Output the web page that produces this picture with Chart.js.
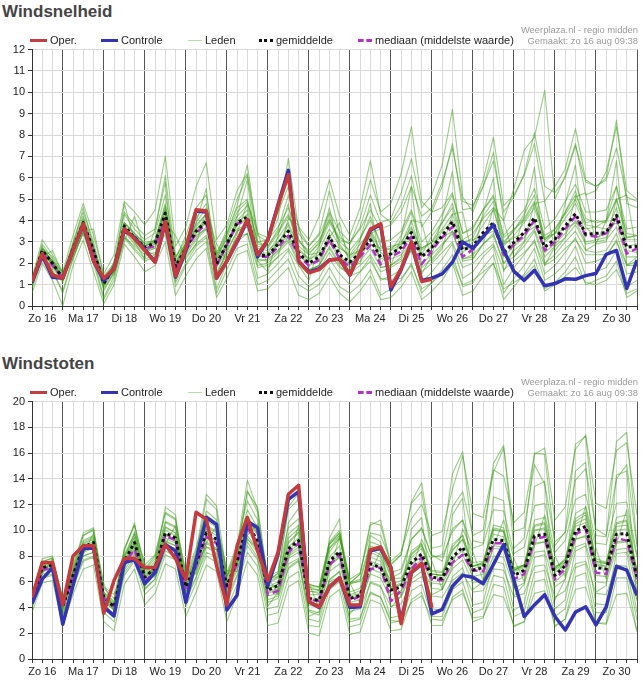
<!DOCTYPE html>
<html><head><meta charset="utf-8">
<script src="https://cdn.jsdelivr.net/npm/chart.js@4"></script>
<style>
html,body{margin:0;padding:0;background:#fff;width:644px;height:684px;overflow:hidden;font-family:"Liberation Sans",Arial,sans-serif;}
.title{position:absolute;left:2px;font-family:"Liberation Sans",Arial,sans-serif;font-weight:bold;font-size:17px;color:#444;line-height:20px;z-index:2;}
.legend{position:absolute;left:0;width:644px;font-size:11px;color:#222;height:14px;line-height:14px;z-index:2;}
.item{position:absolute;top:0;white-space:nowrap;}
.sw{display:inline-block;vertical-align:middle;height:0;margin-right:3px;position:relative;top:-1px;}
.src{position:absolute;right:6px;font-size:9.4px;color:#9a9a9a;text-align:right;line-height:11px;z-index:2;}
canvas{position:absolute;left:0;}
</style></head>
<body>
<div class="title" style="top:2px">Windsnelheid</div>
<div class="src" style="top:24px">Weerplaza.nl - regio midden<br>Gemaakt: zo 16 aug 09:38</div>
<div class="legend" style="top:33px">
  <div class="item" style="left:30px"><span class="sw" style="width:17px;border-top:3.5px solid #c0403f"></span>Oper.</div>
  <div class="item" style="left:101px"><span class="sw" style="width:17px;border-top:3.5px solid #3434b0"></span>Controle</div>
  <div class="item" style="left:188px"><span class="sw" style="width:14px;border-top:1px solid #b9dca9"></span>Leden</div>
  <div class="item" style="left:259px"><span class="sw" style="width:14px;border-top:3px dotted #111"></span>gemiddelde</div>
  <div class="item" style="left:358px"><span class="sw" style="width:14px;border-top:3px dashed #b531c9"></span>mediaan (middelste waarde)</div>
</div>
<canvas id="c1" width="644" height="288" style="top:40px"></canvas>

<div class="title" style="top:354px">Windstoten</div>
<div class="src" style="top:376px">Weerplaza.nl - regio midden<br>Gemaakt: zo 16 aug 09:38</div>
<div class="legend" style="top:385px">
  <div class="item" style="left:30px"><span class="sw" style="width:17px;border-top:3.5px solid #c0403f"></span>Oper.</div>
  <div class="item" style="left:101px"><span class="sw" style="width:17px;border-top:3.5px solid #3434b0"></span>Controle</div>
  <div class="item" style="left:188px"><span class="sw" style="width:14px;border-top:1px solid #b9dca9"></span>Leden</div>
  <div class="item" style="left:259px"><span class="sw" style="width:14px;border-top:3px dotted #111"></span>gemiddelde</div>
  <div class="item" style="left:358px"><span class="sw" style="width:14px;border-top:3px dashed #b531c9"></span>mediaan (middelste waarde)</div>
</div>
<canvas id="c2" width="644" height="289" style="top:392px"></canvas>

<script>
// ---- tick labels / categories ----
const dagLabels = ['Zo 16','Ma 17','Di 18','Wo 19','Do 20','Vr 21','Za 22','Zo 23','Ma 24','Di 25','Wo 26','Do 27','Vr 28','Za 29','Zo 30'];
const STAPPEN_PER_DAG = 4;      // 6-hourly steps
const EERSTE_LABEL_INDEX = 1;   // Zo 16 12:00
const N_PUNTEN = 60;            // Zo 16 06:00 .. Ma 31 00:00

// ---- Windsnelheid (Bft) ----
const snelOper = [1.15,2.45,1.45,1.3,2.6,3.85,2.1,1.3,1.75,3.6,
 3.15,2.6,2.05,3.95,1.4,2.7,4.5,4.45,1.3,2.1,
 3.05,4.05,2.4,3.1,4.7,6.15,2.1,1.55,1.7,2.15,
 2.2,1.45,2.5,3.6,3.85,0.9,1.75,3.0,1.15,1.25];
const snelControle = [1.1,2.35,1.35,1.3,2.6,3.8,2.1,1.2,1.75,3.55,
 3.2,2.65,2.05,3.9,1.35,2.6,4.45,4.4,1.3,2.1,
 3.0,4.0,2.3,3.1,4.75,6.35,2.1,1.6,1.75,2.15,
 2.2,1.45,2.5,3.55,3.8,0.75,1.7,2.95,1.2,1.3,
 1.5,2.05,3.0,2.7,3.25,3.8,2.6,1.62,1.2,1.67,
 0.95,1.05,1.27,1.25,1.42,1.52,2.42,2.6,0.82,2.15];
const snelGemiddelde = [1.1,2.6,2.0,1.3,2.7,3.9,2.6,1.05,1.8,3.75,
 3.2,2.75,2.95,4.35,1.85,2.7,3.5,3.98,1.97,2.9,
 3.9,4.17,2.36,2.36,2.9,3.5,2.5,2.0,2.3,3.24,
 2.4,2.05,2.5,3.1,2.28,2.44,2.75,3.44,2.3,2.75,
 3.29,3.95,2.62,2.8,3.44,3.9,2.5,2.98,3.44,4.13,
 2.75,3.13,3.75,4.32,3.36,3.4,3.44,4.24,2.75,2.8];
const snelMediaan = [1.1,2.5,1.9,1.3,2.65,3.85,2.5,1.1,1.8,3.65,
 3.15,2.7,2.8,4.1,1.75,2.6,3.4,3.85,1.9,2.85,
 3.85,4.0,2.3,2.3,2.75,3.3,2.35,1.9,2.15,3.1,
 2.2,1.85,2.3,2.85,1.95,2.3,2.55,3.25,1.95,2.6,
 3.2,3.7,2.3,2.65,3.3,3.8,2.4,2.9,3.3,4.0,
 2.6,3.0,3.6,4.2,3.3,3.25,3.4,4.1,2.45,2.7];
const snelLeden = [
 [1.2,2.9,2.2,1.4,3.0,4.4,3.0,1.2,2.0,4.3,3.6,3.1,3.4,5.2,2.3,3.1,4.1,4.8,2.5,3.4,4.6,5.0,2.9,2.8,3.5,4.3,3.1,2.5,2.9,4.1,3.0,2.6,3.2,4.0,3.0,3.1,3.5,4.5,3.0,3.5,4.3,5.2,3.4,3.6,4.5,5.1,3.3,3.9,4.5,5.5,3.6,4.1,4.9,5.7,4.4,4.4,4.5,5.6,3.6,3.7],
 [1.0,2.3,1.8,1.1,2.4,3.4,2.2,0.8,1.5,3.2,2.8,2.4,2.5,3.6,1.4,2.3,2.9,3.3,1.5,2.4,3.2,3.4,1.8,1.9,2.3,2.7,1.9,1.5,1.7,2.5,1.8,1.5,1.9,2.4,1.6,1.8,2.1,2.6,1.6,2.0,2.5,3.0,1.8,2.0,2.5,2.9,1.7,2.1,2.5,3.0,1.9,2.2,2.7,3.1,2.4,2.4,2.4,3.0,1.9,1.9],
 [1.1,2.7,2.3,1.5,2.9,4.6,2.8,0.7,1.6,4.8,3.0,2.2,3.6,5.8,1.2,2.4,3.9,5.5,1.4,2.6,4.2,5.9,2.1,1.6,3.3,4.8,1.9,1.2,2.8,4.6,2.6,1.4,3.1,4.8,1.8,1.9,3.2,5.6,1.5,2.4,4.1,6.3,2.2,2.3,4.4,6.0,1.6,2.7,4.2,6.5,1.9,2.8,4.8,6.6,2.6,2.9,4.0,6.8,1.9,2.3],
 [1.2,2.4,2.1,1.6,2.6,3.6,2.7,1.4,2.0,3.4,3.3,3.0,3.0,3.9,2.3,2.9,3.3,3.6,2.4,3.1,3.6,3.8,2.7,2.6,3.0,3.2,2.8,2.4,2.5,3.0,2.7,2.4,2.6,2.9,2.7,2.8,2.9,3.1,2.7,3.0,3.2,3.5,3.0,3.1,3.3,3.5,2.9,3.2,3.4,3.7,3.2,3.4,3.6,3.9,3.6,3.7,3.6,3.9,3.2,3.3],
 [1.0,2.6,1.9,1.2,2.8,4.0,2.4,1.0,1.9,3.9,3.4,2.9,2.9,4.6,2.0,3.0,3.8,4.3,2.2,3.3,4.4,4.9,3.0,3.1,3.7,4.6,3.4,2.8,3.3,4.4,3.5,3.0,3.6,4.5,3.6,3.8,4.4,5.6,4.2,4.6,5.8,7.4,4.9,4.7,5.6,6.8,4.4,5.1,6.2,8.1,5.6,5.3,6.0,7.5,5.8,5.6,5.9,7.4,5.1,4.9],
 [1.1,2.5,1.9,1.2,2.5,3.7,2.5,1.0,1.7,3.6,3.0,2.6,2.7,4.0,1.7,2.5,3.2,3.7,1.8,2.6,3.5,3.8,2.1,2.2,2.6,3.1,2.1,1.7,1.9,2.7,1.9,1.4,1.6,2.1,1.3,1.2,1.3,1.9,0.8,1.1,1.5,2.1,1.0,1.2,1.6,2.0,0.8,1.1,1.4,1.9,0.7,1.0,1.4,1.8,1.1,1.0,1.2,1.7,0.6,0.8],
 [1.1,2.8,2.0,1.3,2.7,4.1,2.6,1.1,1.8,3.9,3.3,2.8,3.1,4.7,1.9,2.9,3.7,4.3,2.1,3.0,4.0,4.5,2.6,2.3,2.9,3.8,2.4,1.9,2.1,3.4,2.2,1.8,2.3,3.5,2.0,2.6,2.9,4.0,2.4,3.3,3.9,4.8,3.1,3.4,4.1,4.6,2.9,3.6,4.1,4.9,3.0,3.4,4.1,4.8,3.7,3.2,3.4,4.6,2.8,2.9],
 [1.2,2.6,2.1,1.3,2.6,3.8,2.7,1.1,1.9,3.8,3.1,2.7,2.9,4.3,1.9,2.8,3.6,3.9,1.9,2.8,3.8,4.0,2.2,2.1,2.6,3.2,2.3,2.1,2.6,3.6,2.8,2.3,2.9,3.5,2.5,2.2,2.4,3.0,2.0,2.4,2.9,3.4,2.2,2.4,2.9,3.3,2.0,2.6,3.0,3.6,2.3,2.8,3.2,3.8,2.9,3.0,3.1,3.7,2.3,2.3],
 [1.0,2.7,2.1,1.2,2.9,4.2,2.8,0.9,2.1,4.4,3.8,3.3,3.6,6.1,2.2,3.3,4.6,5.2,2.4,3.6,5.0,6.1,3.0,2.8,3.6,5.2,3.1,2.4,3.0,4.3,2.9,2.2,2.7,3.6,2.6,2.7,3.0,3.7,2.6,3.0,3.6,4.3,2.8,2.6,3.2,3.9,2.3,2.8,3.2,4.0,2.5,2.9,3.4,4.0,3.0,3.1,3.2,4.1,2.6,2.5],
 [0.9,2.4,1.7,0.6,2.2,3.5,2.2,0.4,1.4,3.3,2.7,2.2,2.4,3.8,1.1,2.0,2.8,3.2,0.8,2.0,3.0,3.4,1.3,1.5,2.0,2.6,1.4,0.9,1.3,2.2,1.5,1.0,1.6,2.3,1.2,1.4,1.7,2.6,1.1,1.6,2.2,2.9,1.3,1.6,2.3,2.8,1.0,1.8,2.4,3.1,1.5,1.9,2.5,3.2,2.0,2.1,2.3,3.1,1.5,1.6],
 [1.1,2.6,2.0,1.4,2.8,3.9,2.6,1.2,1.9,3.7,3.2,2.8,3.0,4.4,2.0,2.8,3.6,4.1,2.2,3.2,4.2,4.7,2.8,2.7,3.4,4.2,3.0,2.6,3.1,4.0,3.2,2.9,3.7,5.2,3.9,4.1,5.3,6.9,4.6,5.2,6.6,9.2,5.1,4.4,5.6,7.2,4.0,5.5,7.3,7.9,10.1,5.0,6.1,7.6,5.2,5.4,6.3,8.4,5.4,5.0],
 [1.1,2.5,2.0,1.4,2.7,3.9,2.6,1.1,1.8,3.7,3.2,2.8,3.0,4.5,1.8,2.7,3.5,4.0,2.0,2.9,3.9,4.3,2.4,2.5,3.2,3.9,2.7,2.2,2.4,3.0,2.2,2.0,2.5,3.3,2.2,2.4,2.8,3.6,2.3,2.8,3.5,4.0,2.5,3.0,3.8,4.5,2.8,3.3,3.9,4.6,3.1,3.6,4.3,5.0,3.9,4.0,3.9,5.0,3.1,3.1],
 [1.1,2.6,2.0,1.3,2.6,3.8,2.5,1.0,1.7,3.6,3.1,2.6,2.8,4.1,1.8,2.6,3.4,3.9,1.9,2.8,3.8,4.1,2.3,2.4,3.0,3.6,2.6,2.2,2.8,3.9,3.1,2.9,4.1,5.9,4.4,4.8,6.2,8.4,4.9,4.4,4.6,5.3,3.4,3.7,4.5,5.2,3.2,3.6,4.0,4.8,3.3,3.6,4.4,5.2,4.1,3.9,4.0,5.0,3.4,3.3],
 [1.0,2.5,1.9,1.2,2.5,3.7,2.4,0.9,1.6,3.5,2.9,2.5,2.7,4.0,1.6,2.4,3.1,3.6,1.6,2.5,3.5,3.7,1.9,2.0,2.5,3.0,2.0,1.7,1.9,2.8,2.0,1.7,2.1,2.7,1.8,1.9,2.2,3.0,1.8,2.2,2.8,3.5,2.1,2.2,2.9,3.4,2.0,2.3,2.8,3.5,2.0,2.4,3.0,3.5,2.6,2.5,2.6,3.4,1.9,2.1],
 [1.2,2.7,2.1,1.3,2.8,4.0,2.7,1.1,1.9,3.9,3.4,2.9,3.1,4.8,2.1,2.9,3.9,4.6,2.3,3.4,4.7,6.6,3.3,3.0,4.1,6.9,3.6,2.8,3.4,5.4,3.4,2.4,3.1,4.2,2.8,2.6,3.3,4.4,2.7,3.0,3.9,4.6,2.9,3.2,4.2,4.9,3.0,3.5,4.3,5.2,3.1,3.4,4.4,5.4,3.8,3.7,4.0,5.6,3.2,3.3],
 [0.8,2.2,1.6,0.7,2.3,3.4,2.0,0.3,1.2,3.2,2.6,2.1,2.3,3.4,0.9,1.9,2.6,3.0,0.6,1.7,2.7,2.9,1.0,1.2,1.7,2.2,1.0,0.7,1.0,1.8,0.9,0.6,1.0,1.7,0.5,0.8,1.2,2.0,0.6,1.1,1.7,2.4,0.9,1.1,1.8,2.4,0.6,1.3,1.9,2.7,1.2,1.5,2.0,2.8,1.4,1.6,1.8,2.6,0.9,1.2],
 [1.1,2.3,2.6,1.5,2.2,3.5,3.6,1.4,1.5,3.0,4.2,2.6,2.4,3.9,3.3,2.2,2.9,4.5,2.9,2.1,3.4,4.8,3.5,1.8,2.3,4.1,3.8,1.6,1.9,3.2,3.9,1.8,2.0,3.4,3.6,1.9,2.3,4.0,3.9,2.1,2.7,4.3,4.4,2.2,2.9,4.6,4.0,2.3,3.0,4.8,4.9,2.6,3.2,5.1,5.3,2.9,3.0,5.0,5.2,2.4],
 [1.3,3.1,2.4,1.6,3.3,4.8,3.3,1.5,2.4,4.9,4.4,3.8,4.5,7.0,2.8,3.7,5.6,6.7,3.1,3.8,5.4,6.2,3.4,3.2,4.4,5.6,3.7,3.1,4.2,5.9,4.2,3.3,4.6,6.8,4.3,3.9,4.7,6.1,3.7,4.4,5.6,7.6,4.5,4.6,5.9,7.9,4.7,5.2,6.1,7.6,4.9,5.6,6.4,8.3,5.9,5.6,6.0,8.7,4.8,4.6],
 [0.6,2.0,1.2,0.0,1.9,3.1,1.6,0.1,1.0,2.9,2.3,1.6,1.9,3.0,0.5,1.4,2.2,2.7,0.4,1.3,2.4,2.6,0.7,0.8,1.3,1.8,0.5,0.3,0.6,1.4,0.6,0.2,0.7,1.4,0.3,0.4,0.9,1.6,0.3,0.7,1.2,2.0,0.5,0.7,1.4,2.0,0.3,0.9,1.5,2.2,0.8,1.1,1.6,2.3,1.0,1.2,1.4,2.1,0.4,0.7]
];

// ---- Windstoten (m/s) ----
const stootOper = [4.8,7.5,7.5,4.2,8.0,8.8,8.8,3.55,6.1,7.8,
 7.8,7.1,7.1,8.9,7.8,6.2,11.4,10.85,7.25,4.2,
 8.8,11.0,8.4,6.1,8.3,12.8,13.5,4.45,4.05,5.6,
 6.3,4.2,4.2,8.5,8.7,7.1,2.75,6.75,7.45,4.0];
const stootControle = [4.3,6.2,7.1,2.7,5.7,8.6,8.6,4.05,3.35,7.5,
 7.7,5.85,6.7,8.9,8.4,4.4,7.7,11.0,10.45,3.8,
 4.95,10.7,10.2,5.7,8.15,12.4,13.0,4.45,4.0,5.6,
 6.3,4.0,4.05,8.4,8.6,7.1,2.9,6.7,7.4,3.5,
 3.85,5.65,6.5,6.35,5.85,7.35,8.9,6.1,3.3,4.2,
 5.0,3.3,2.25,3.65,4.05,2.65,4.05,7.2,6.9,4.95];
const stootGemiddelde = [4.5,7.1,7.3,4.05,6.5,8.7,9.05,4.8,4.05,7.6,
 9.05,6.35,7.1,9.8,9.4,5.6,7.4,9.8,9.3,5.7,
 7.6,10.45,9.2,5.35,5.7,8.55,9.2,4.7,4.55,7.6,
 8.35,4.7,4.95,7.4,7.1,5.35,5.6,7.5,8.15,6.35,
 6.25,7.9,8.7,6.9,7.1,9.3,9.2,6.5,6.9,9.55,
 9.7,6.5,7.25,9.95,10.3,7.1,7.0,9.7,9.75,6.35];
const stootMediaan = [4.4,6.9,7.2,4.1,6.4,8.5,8.8,4.7,4.1,7.4,
 8.5,6.0,6.9,9.6,9.2,5.5,7.2,9.5,9.0,5.6,
 7.4,10.2,9.0,5.0,5.3,8.3,9.0,4.6,4.5,7.3,
 8.1,4.5,4.9,7.0,7.1,4.5,5.3,7.0,7.9,6.2,
 6.1,7.5,8.1,6.9,6.8,9.0,9.0,6.2,6.6,9.3,
 9.5,6.2,7.0,9.7,10.1,6.7,6.6,9.4,9.2,6.2];
const stootLeden = [
 [4.9,7.8,8.0,4.6,7.3,9.8,10.2,5.5,4.7,8.6,10.4,7.3,8.1,11.4,10.9,6.5,8.6,11.5,10.8,6.7,8.9,12.3,10.8,6.4,6.8,10.2,10.9,5.8,5.6,9.1,10.0,5.9,6.2,9.1,8.8,6.7,7.0,9.3,10.1,8.0,7.9,9.9,10.8,8.6,8.9,11.6,11.5,8.2,8.7,11.9,12.1,8.3,9.2,12.4,12.8,9.0,8.9,12.1,12.2,8.1],
 [4.1,6.4,6.6,3.5,5.8,7.7,8.0,4.1,3.4,6.7,7.8,5.5,6.2,8.4,8.0,4.8,6.4,8.3,7.9,4.8,6.5,8.8,7.7,4.4,4.7,7.0,7.6,3.8,3.6,6.2,6.8,3.7,3.9,5.9,5.6,4.1,4.3,5.9,6.4,4.9,4.8,6.1,6.7,5.2,5.3,7.0,6.9,4.8,5.1,7.2,7.3,4.8,5.3,7.4,7.6,5.1,5.0,7.3,7.2,4.6],
 [4.4,7.5,7.9,3.6,6.9,9.6,10.1,4.2,3.5,8.4,10.6,5.6,7.4,11.8,11.2,4.7,7.9,12.4,11.6,4.6,7.9,13.1,11.4,4.1,5.2,10.6,11.7,3.3,3.7,9.4,10.9,3.5,4.4,9.6,9.1,4.0,4.9,10.1,11.0,5.0,5.4,11.2,12.5,5.4,6.0,12.6,12.3,4.9,5.8,13.4,13.8,4.6,6.2,14.6,15.3,5.2,5.7,14.3,14.6,4.5],
 [4.6,6.8,7.0,4.8,6.4,8.0,8.3,5.6,5.0,7.2,8.2,6.9,7.2,8.8,8.6,6.4,7.3,8.7,8.5,6.5,7.5,9.3,8.6,6.3,6.4,8.0,8.5,5.8,5.6,7.4,7.9,5.9,6.0,7.3,7.1,6.2,6.3,7.4,7.9,6.9,6.8,7.8,8.4,7.2,7.4,8.8,8.7,7.1,7.3,9.0,9.1,7.2,7.5,9.3,9.5,7.6,7.4,9.1,9.2,7.0],
 [4.5,7.2,7.4,4.2,6.7,8.9,9.3,5.0,4.2,7.9,9.4,6.6,7.4,10.2,9.8,5.9,7.8,10.3,9.8,6.1,8.1,11.1,9.8,5.9,6.3,9.4,10.1,5.6,5.6,8.9,9.8,6.2,6.7,9.8,9.6,7.6,8.3,10.9,12.0,9.6,9.9,13.2,15.8,11.3,11.0,14.7,14.2,10.6,11.4,15.9,16.4,10.8,11.8,16.3,17.4,12.1,11.7,16.2,16.8,11.2],
 [4.4,6.9,7.1,3.9,6.2,8.4,8.7,4.5,3.8,7.2,8.6,6.0,6.7,9.2,8.8,5.2,6.8,9.0,8.5,5.1,6.9,9.4,8.2,4.6,4.9,7.4,7.8,3.7,3.4,6.0,6.4,3.1,3.2,5.2,4.8,3.0,2.9,4.4,4.9,3.1,3.0,4.6,5.1,3.2,3.3,5.0,4.8,2.6,2.9,5.1,5.3,2.6,3.1,5.4,5.6,2.8,2.7,5.0,5.1,2.2],
 [4.6,7.3,7.5,4.1,6.7,9.0,9.4,4.9,4.1,7.9,9.5,6.5,7.2,10.3,9.8,5.7,7.7,10.4,9.9,5.8,7.9,11.0,9.7,5.5,5.8,9.0,9.8,4.8,4.6,7.9,8.8,4.9,5.1,7.9,7.6,5.5,5.8,8.2,8.9,6.6,6.5,8.7,9.6,7.2,7.5,10.4,10.2,6.9,7.3,10.8,11.0,7.0,7.7,11.3,11.8,7.6,7.5,11.0,11.2,6.7],
 [4.3,6.8,7.1,3.8,6.3,8.4,8.8,4.6,3.9,7.3,8.8,6.1,6.9,9.4,9.0,5.4,7.1,9.4,8.9,5.4,7.3,10.0,8.8,5.1,5.4,8.1,8.7,4.4,4.3,7.2,7.9,4.4,4.6,7.0,6.7,5.0,5.3,7.1,7.7,5.9,5.8,7.4,8.1,6.4,6.6,8.6,8.5,6.0,6.4,8.9,9.1,6.0,6.7,9.3,9.6,6.5,6.4,9.0,9.1,5.8],
 [4.7,7.6,7.8,4.4,7.1,9.6,10.0,5.2,4.5,8.5,10.4,7.0,8.0,11.3,10.8,6.2,8.4,12.8,11.9,6.5,8.7,13.9,11.6,6.0,6.7,11.6,12.4,5.3,5.1,8.9,9.6,5.0,5.3,8.3,7.9,5.6,5.9,8.1,8.8,6.6,6.5,8.5,9.3,7.0,7.3,9.7,9.5,6.8,7.1,10.0,10.1,6.7,7.4,10.3,10.6,7.3,7.2,10.0,10.1,6.4],
 [4.2,6.6,6.8,3.4,5.9,8.0,8.3,3.9,3.2,6.9,8.1,5.4,6.2,8.7,8.3,4.5,6.3,8.7,8.2,4.4,6.4,9.1,7.9,3.9,4.1,7.1,7.7,3.1,2.9,6.1,6.8,2.9,3.1,6.0,5.7,3.2,3.4,6.2,6.8,3.9,3.8,6.4,7.1,4.2,4.4,7.6,7.4,3.8,4.3,7.9,8.1,3.9,4.6,8.4,8.8,4.3,4.2,8.2,8.3,3.6],
 [4.5,7.1,7.3,4.1,6.6,8.8,9.1,4.9,4.1,7.7,9.2,6.4,7.2,10.0,9.6,5.7,7.5,10.1,9.6,5.9,7.8,10.8,9.6,5.6,6.0,9.1,9.9,5.2,5.3,8.6,9.6,5.9,6.6,10.6,10.4,7.3,8.1,12.2,13.7,8.6,8.8,14.4,16.1,9.2,9.0,15.2,16.6,8.6,9.4,16.0,15.9,8.8,9.9,16.7,17.3,9.6,9.5,16.9,17.6,8.9],
 [4.5,7.0,7.2,4.0,6.5,8.6,8.9,4.8,4.0,7.5,8.9,6.3,7.0,9.6,9.2,5.5,7.3,9.6,9.1,5.6,7.5,10.2,9.0,5.2,5.5,8.3,8.9,4.6,4.5,7.4,8.1,4.7,5.0,7.6,7.3,5.4,5.8,7.9,8.6,6.6,6.5,8.4,9.3,7.2,7.4,10.0,9.9,6.9,7.3,10.4,10.6,7.1,7.8,10.9,11.4,7.8,7.5,10.6,10.8,6.8],
 [4.5,7.1,7.3,4.1,6.5,8.7,9.0,4.8,4.1,7.6,9.0,6.3,7.1,9.7,9.3,5.6,7.4,9.7,9.2,5.7,7.6,10.3,9.1,5.4,5.8,8.7,9.4,5.0,5.0,8.3,9.4,5.9,6.6,10.4,10.8,7.4,8.1,12.1,13.0,8.1,7.6,10.1,10.8,7.5,7.6,10.2,10.0,6.9,7.2,10.0,10.2,6.9,7.5,10.5,10.9,7.4,7.2,10.3,10.4,6.6],
 [4.4,6.9,7.1,3.9,6.3,8.3,8.6,4.5,3.8,7.2,8.5,6.0,6.7,9.1,8.8,5.2,6.9,9.1,8.6,5.3,7.1,9.6,8.5,4.9,5.1,7.8,8.3,4.2,4.0,6.8,7.4,4.1,4.3,6.6,6.3,4.6,4.8,6.6,7.2,5.5,5.4,7.0,7.7,5.9,6.1,8.0,7.9,5.5,5.9,8.3,8.4,5.6,6.2,8.7,9.0,6.0,5.9,8.5,8.6,5.3],
 [4.6,7.3,7.5,4.2,6.8,9.1,9.5,5.1,4.3,8.0,9.7,6.7,7.6,10.6,10.2,6.0,8.0,11.2,10.6,6.3,8.5,13.0,11.8,6.2,6.6,11.8,12.9,5.6,5.3,9.0,9.8,5.2,5.5,8.5,8.1,5.8,6.1,8.4,9.0,6.8,6.7,8.9,9.6,7.2,7.5,10.1,9.9,7.0,7.3,10.3,10.5,7.0,7.7,10.7,11.2,7.5,7.4,10.5,10.7,6.7],
 [4.0,6.3,6.5,3.2,5.6,7.6,7.9,3.6,2.9,6.5,7.6,5.0,5.8,8.1,7.7,4.1,5.9,8.0,7.5,3.9,5.8,8.3,7.2,3.4,3.6,6.3,6.8,2.6,2.5,5.4,6.0,2.5,2.7,5.1,4.8,2.8,3.0,5.3,5.8,3.3,3.3,5.4,6.0,3.6,3.9,6.5,6.3,3.3,3.7,6.7,6.9,3.3,3.9,7.1,7.4,3.6,3.6,7.0,7.0,3.0],
 [4.6,6.6,7.8,4.8,5.7,8.1,9.8,5.9,3.7,6.8,9.9,7.4,6.3,8.9,10.4,6.8,6.6,9.0,10.4,6.9,6.8,9.6,10.5,6.4,5.0,7.7,10.4,5.9,3.9,6.8,9.5,5.9,4.3,6.7,8.4,6.5,4.9,6.9,9.3,7.6,5.4,7.2,10.1,8.3,6.1,8.7,10.8,7.8,6.0,8.8,11.2,8.0,6.4,9.2,11.9,8.6,6.2,8.9,11.6,7.9],
 [4.6,7.4,7.6,4.3,6.9,9.2,9.6,5.2,4.4,8.1,9.8,6.9,7.8,10.7,10.3,6.1,8.1,10.8,10.2,6.4,8.4,11.6,10.2,6.0,6.4,9.7,10.4,5.4,5.4,8.6,9.4,5.8,6.1,8.8,8.4,6.3,6.7,9.3,10.2,7.9,8.1,11.8,13.0,9.6,10.0,14.5,16.4,9.9,10.2,15.1,13.6,9.1,9.8,13.9,14.8,10.1,9.6,14.0,15.1,8.7],
 [3.6,5.9,6.1,2.6,5.0,7.0,7.3,2.9,2.2,5.8,7.0,4.2,5.1,7.4,7.0,3.3,5.2,7.3,6.8,2.9,5.0,7.6,6.5,2.6,2.8,5.6,6.1,2.0,1.8,4.8,5.4,1.9,2.1,4.6,4.3,2.2,2.3,4.6,5.2,2.6,2.6,4.8,5.4,2.9,3.2,5.8,5.6,2.5,2.9,6.0,6.2,2.5,3.1,6.4,6.7,2.8,2.8,6.3,6.3,2.1]
];

// ---- chart builder ----
Chart.defaults.font.family = "'Liberation Sans', Arial, sans-serif";
function punten(arr){ return arr.map((v, i) => ({x: i, y: v})); }

function bouwGrafiek(id, yMax, yStap, padTop, oper, controle, gem, med, leden){
  const datasets = [
    {label:'Oper.', data:punten(oper), borderColor:'#c63a3e', borderWidth:3.5, order:0},
    {label:'Controle', data:punten(controle), borderColor:'#3333b3', borderWidth:3.5, order:1},
    {label:'gemiddelde', data:punten(gem), borderColor:'#111111', borderWidth:3, borderDash:[3,3], order:2},
    {label:'mediaan', data:punten(med), borderColor:'#b531c9', borderWidth:2.5, borderDash:[7,4], order:3}
  ];
  leden.forEach(m => datasets.push({label:'Leden', data:punten(m), borderColor:'rgba(58,155,20,0.5)', borderWidth:1.1, order:10}));
  return new Chart(document.getElementById(id), {
    type:'line',
    data:{datasets},
    options:{
      responsive:false, animation:false, events:[],
      layout:{padding:{left:0, right:7, top:padTop, bottom:0}},
      elements:{point:{radius:0}, line:{tension:0, fill:false, borderJoinStyle:'round'}},
      plugins:{legend:{display:false}, tooltip:{enabled:false}},
      scales:{
        x:{
          type:'linear', min:0, max:N_PUNTEN - 1,
          afterFit(s){ s.height = 22; },
          afterBuildTicks(s){ s.ticks = Array.from({length:N_PUNTEN}, (_, i) => ({value:i})); },
          ticks:{stepSize:1, autoSkip:false, maxRotation:0, minRotation:0, color:'#222', font:{size:11}, padding:2,
            callback(v){ return ((v - EERSTE_LABEL_INDEX) % STAPPEN_PER_DAG === 0 && v >= EERSTE_LABEL_INDEX) ? dagLabels[(v - EERSTE_LABEL_INDEX) / STAPPEN_PER_DAG] : ''; }},
          grid:{
            color(ctx){ const v = ctx.tick ? ctx.tick.value : 0; return ((v + 1) % STAPPEN_PER_DAG === 0) ? '#555555' : '#dadada'; },
            tickColor:'#333', tickLength:4, lineWidth:1
          },
          border:{color:'#333'}
        },
        y:{
          min:0, max:yMax,
          afterFit(s){ s.width = 32; },
          ticks:{stepSize:yStap, color:'#222', font:{size:11}, padding:3},
          grid:{color:'#dadada', tickColor:'#333', tickLength:4},
          border:{color:'#333'}
        }
      }
    }
  });
}

bouwGrafiek('c1', 12, 1, 6.5, snelOper, snelControle, snelGemiddelde, snelMediaan, snelLeden);
bouwGrafiek('c2', 20, 2, 7, stootOper, stootControle, stootGemiddelde, stootMediaan, stootLeden);
</script>
</body></html>
